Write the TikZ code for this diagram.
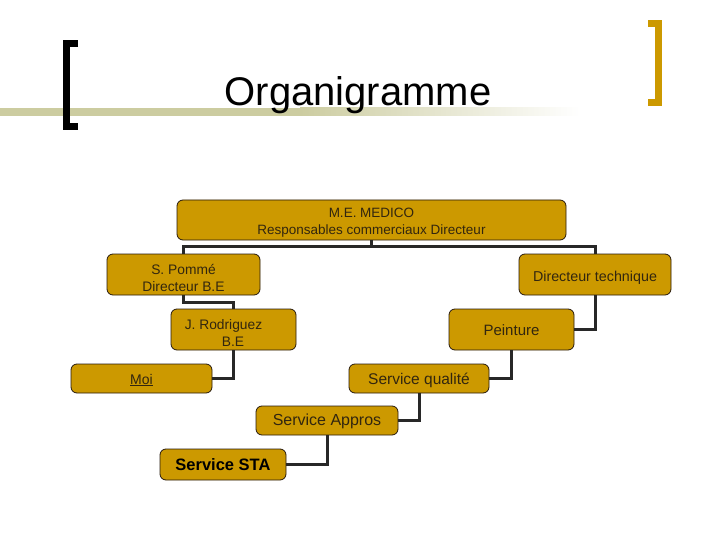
\documentclass[tikz,border=0pt]{standalone}
\usepackage{fontspec}
\setmainfont{Liberation Sans}
\definecolor{boxgold}{RGB}{204,153,0}
\definecolor{brgold}{RGB}{204,153,0}
\definecolor{band}{RGB}{204,204,160}
\definecolor{boxtext}{RGB}{50,38,15}
\definecolor{wire}{RGB}{40,40,40}
\tikzset{
  orgbox/.style={draw=black!80!brown, line width=0.8pt, fill=boxgold, rounded corners=6pt,
    inner sep=0pt},
  lbl/.style={inner sep=0pt, align=center, text=boxtext, yshift=-3pt, font=\fontsize{13.8}{17}\selectfont},
  wirel/.style={draw=wire, line width=3pt}
}
\begin{document}
\begin{tikzpicture}[x=1pt,y=-1pt]
\useasboundingbox (0,0) rectangle (720,540);
% title band
\fill[band] (0,108) rectangle (300,116);
\shade[left color=band, right color=white] (300,108) rectangle (580,116);
% brackets
\draw[line width=7pt, black] (78,43.5) -- (66.5,43.5) -- (66.5,126.5) -- (78,126.5);
\draw[line width=7pt, brgold] (648,23.5) -- (658.5,23.5) -- (658.5,102.5) -- (648,102.5);
\node[anchor=base, font=\fontsize{40}{44}\selectfont] (title) at (358,106) {Organigramme};
% boxes
\node[orgbox, minimum width=389, minimum height=40,
  label={[lbl, font=\fontsize{13.5}{17}\selectfont]center:{M.E. MEDICO\\Responsables commerciaux Directeur}}] (medico) at (371.5,220) {};
\node[orgbox, minimum width=153, minimum height=41,
  label={[lbl]center:{S. Pommé\\Directeur B.E}}] (pomme) at (183.5,274.5) {};
\node[orgbox, minimum width=152, minimum height=41,
  label={[lbl, font=\fontsize{14.3}{17}\selectfont]center:{Directeur technique}}] (dt) at (595,274.5) {};
\node[orgbox, minimum width=125, minimum height=41,
  label={[lbl, xshift=-10pt]center:{J. Rodriguez\\\hspace*{19pt}B.E}}] (rodri) at (233.5,329.5) {};
\node[orgbox, minimum width=125, minimum height=41,
  label={[lbl, yshift=2pt, font=\fontsize{15}{18}\selectfont]center:{Peinture}}] (peint) at (511.5,329.5) {};
\node[orgbox, minimum width=141, minimum height=29,
  label={[lbl, yshift=1.5pt, font=\fontsize{14}{17}\selectfont]center:{\underline{Moi}}}] (moi) at (141.5,378.5) {};
\node[orgbox, minimum width=140, minimum height=29,
  label={[lbl, yshift=1pt, font=\fontsize{15.5}{18}\selectfont]center:{Service qualité}}] (qual) at (419,378.5) {};
\node[orgbox, minimum width=142, minimum height=29,
  label={[lbl, yshift=2pt, font=\fontsize{16}{18}\selectfont]center:{Service Appros}}] (appro) at (327,420.5) {};
\node[orgbox, minimum width=126, minimum height=31,
  label={[lbl, yshift=3pt, text=black, font=\fontsize{16.5}{18}\selectfont\bfseries]center:{Service STA}}] (sta) at (223,464.5) {};
% connectors
\draw[wirel] (medico.south) -- ++(0,6) -| (pomme.north);
\draw[wirel] (medico.south) -- ++(0,6) -| (dt.north);
\draw[wirel] (pomme.south) -- ++(0,7) -| (rodri.north);
\draw[wirel] (rodri.south) |- (moi.east);
\draw[wirel] (dt.south) |- (peint.east);
\draw[wirel] (peint.south) |- (qual.east);
\draw[wirel] (qual.south) |- (appro.east);
\draw[wirel] (appro.south) |- (sta.east);
\end{tikzpicture}
\end{document}
